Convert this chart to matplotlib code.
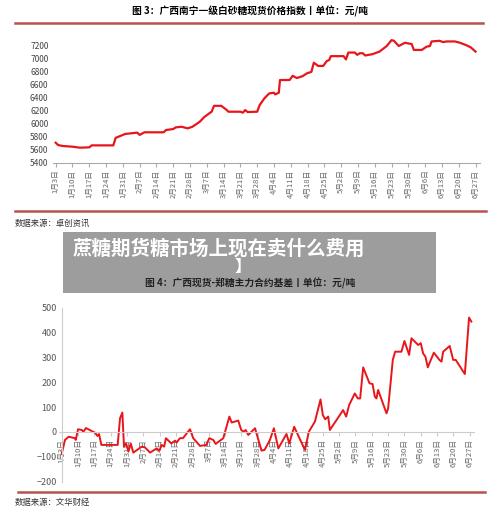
import matplotlib
matplotlib.use("Agg")
import matplotlib.pyplot as plt
from matplotlib.patches import Rectangle
from matplotlib.lines import Line2D

plt.rcParams['font.family'] = ['Noto Sans CJK SC', 'DejaVu Sans']

tick_labels = ["1月3日","1月10日","1月17日","1月24日","1月31日","2月7日","2月14日","2月21日","2月28日",
               "3月7日","3月14日","3月21日","3月28日","4月4日","4月11日","4月18日","4月25日","5月2日",
               "5月9日","5月16日","5月23日","5月30日","6月6日","6月13日","6月20日","6月27日"]

price_day = [0,1,3,7,10,14,15,24,25,27,29,34,35,37,45,46,49,50,52.5,55,57,60,62,64,65,66,69,71,72,77,78,79,80,84,85,87,89,91,91.5,93,93.5,97.5,98.8,100.5,103,104.6,106.6,107.6,109.4,111.5,113,114,114.7,120,121,122,124.7,125.7,126.8,128,129,132,135,138,140,141,143,145.6,148.4,149.3,152.6,154.6,156,156.7,160,161.5,163,166.4,168.5,171,173,175]
price_val = [5706,5670,5655,5645,5630,5635,5665,5665,5780,5810,5840,5860,5825,5865,5865,5900,5915,5940,5950,5925,5950,6025,6100,6155,6180,6270,6270,6215,6180,6180,6165,6205,6175,6180,6280,6385,6460,6470,6445,6470,6665,6665,6730,6695,6725,6765,6790,6930,6880,6880,6955,6970,7030,7030,6980,7085,7085,7050,7075,7075,7040,7060,7100,7185,7275,7265,7185,7235,7215,7125,7125,7175,7185,7255,7265,7245,7255,7255,7235,7200,7165,7100]

basis_day = [0,1.4,3,5.7,6,7,8.6,9.3,10.4,12,14.3,15.3,16,17,24,25,26,26.7,27.6,28.6,29.6,30.7,34.3,35.7,37.9,40.7,41.9,42.9,43.9,44.7,47,48.6,49.3,50.7,52,55,56.4,59.3,62,63.3,65,66,69.3,71.9,72.9,75.7,77,77.9,78.9,80,82.9,85.7,87,89.3,91,92.9,96.4,97.6,99.7,104.3,106,108.6,111,112,113,114.3,115,120.7,122,123.3,125.7,127,128,129.3,132,133.3,134.3,135,135.7,139.3,140,142,143,145.7,147,149,150,152.9,154,155,156,157,159.6,162,162.9,163.6,166.4,167.9,169,172.9,174.7,175.7]
basis_val = [-88,-32,-19,-25,-32,11,8,1,16,8,-3,-16,-8,-52,-52,55,78,-59,-46,-79,-46,-83,-59,-62,-83,-66,-75,-52,-59,-25,-46,-35,-42,-25,-25,11,-25,-56,-52,-25,-32,-48,-25,62,38,46,8,1,8,-12,15,-75,-72,-32,15,-66,-8,-46,21,-72,1,42,131,68,51,62,8,88,62,109,155,135,135,260,196,193,142,135,169,75,95,290,323,323,366,310,377,350,357,316,303,260,319,290,283,323,346,290,290,233,460,444]

W, H = 500, 527
fig = plt.figure(figsize=(5, 5.27), dpi=100)
red = '#e8161b'
rule = '#b5534f'
ticks = [7*i for i in range(26)]

def fx(px): return px / W
def fy(py): return 1 - py / H

def rule_line(y, x0, x1):
    fig.add_artist(Line2D([fx(x0), fx(x1)], [fy(y), fy(y)], color=rule, lw=1.8))

# Chart 1
fig.text(0.5, fy(11), "图 3：广西南宁一级白砂糖现货价格指数丨单位：元/吨", ha='center', va='center', fontsize=7, fontweight='bold')
rule_line(23, 15, 483)
ax1 = fig.add_axes([fx(53.3), fy(162.7), 427/W, (162.7-38.5)/H])
ax1.plot(price_day, price_val, color=red, lw=1.6)
ax1.set_xlim(-1, 177)
ax1.set_ylim(5400, 7300)
ax1.set_yticks(range(5400, 7201, 200))
ax1.set_xticks(ticks)
ax1.set_xticklabels(tick_labels, rotation=90, fontsize=5.5, color='#666666')
ax1.tick_params(axis='y', labelsize=6, length=0, colors='#444444')
ax1.tick_params(axis='x', length=3, color='#aaaaaa', pad=2)
for s in ['top', 'right', 'left']:
    ax1.spines[s].set_visible(False)
ax1.spines['bottom'].set_color('#aaaaaa')
rule_line(211, 15, 486)
fig.text(fx(15), fy(223), "数据来源：卓创资讯", ha='left', va='center', fontsize=6, color='#333333')

# Chart 2
ax2 = fig.add_axes([fx(59.4), fy(481.7), 415/W, (481.7-307.7)/H])
ax2.spines['bottom'].set_position(('data', 0))
ax2.spines['left'].set_position(('data', 0))
ax2.plot(basis_day, basis_val, color=red, lw=1.4)
ax2.set_xlim(-1, 177)
ax2.set_ylim(-200, 500)
ax2.set_yticks(range(-200, 501, 100))
ax2.set_xticks(ticks)
ax2.set_xticklabels(tick_labels, rotation=90, fontsize=5.5, color='#666666')
ax2.spines['bottom'].set_color('#cccccc')
ax2.spines['left'].set_color('#cccccc')
for s in ['top', 'right']:
    ax2.spines[s].set_visible(False)
ax2.tick_params(axis='y', labelsize=6.5, length=0, colors='#555555')
ax2.tick_params(axis='x', length=3, color='#cccccc', pad=2)
rule_line(492, 18, 485)
fig.text(fx(15), fy(502), "数据来源：文华财经", ha='left', va='center', fontsize=6, color='#333333')

# Banner overlay
fig.add_artist(Rectangle((fx(63), fy(293)), 373/W, 61/H, transform=fig.transFigure,
                         facecolor='#8c8c8c', alpha=0.85, edgecolor='none', zorder=10))
fig.text(0.5, fy(283), "图 4：广西现货-郑糖主力合约基差丨单位：元/吨", ha='center', va='center',
         fontsize=7, fontweight='bold', color='#222222', zorder=12)
fig.text(fx(73), fy(249), "蔗糖期货糖市场上现在卖什么费用", ha='left', va='center', fontsize=14,
         fontweight='bold', color='white', zorder=11)
fig.text(fx(243), fy(267), "】", ha='center', va='center', fontsize=12, fontweight='bold', color='white', zorder=11)

fig.savefig("out.png", dpi=100, facecolor='white')
